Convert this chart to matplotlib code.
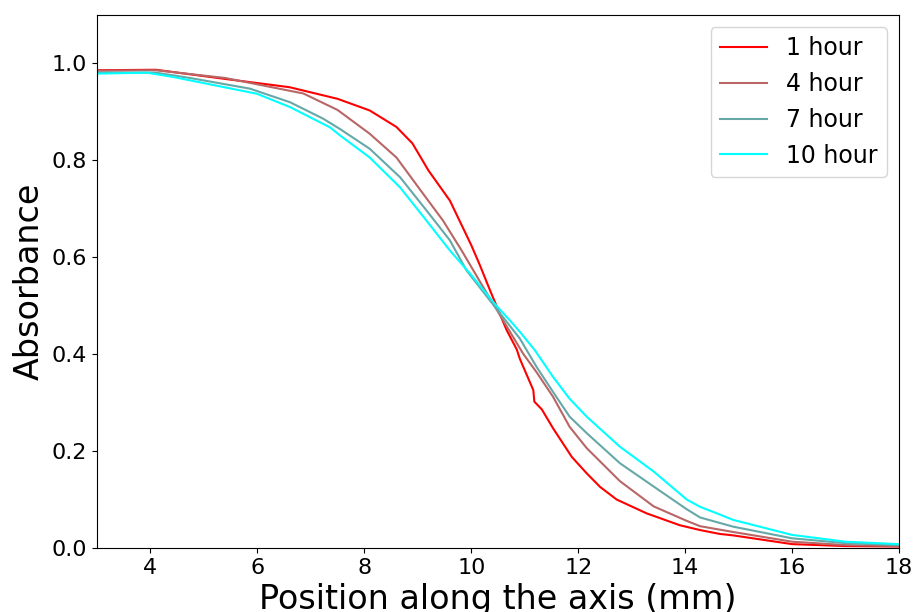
import matplotlib
matplotlib.use("Agg")
import matplotlib.pyplot as plt

# 1 hour
x1 = [3, 4.1, 5.4, 6.6, 7.5, 8.1, 8.6, 8.9, 9.2, 9.6, 10.0, 10.16, 10.35, 10.66, 10.85,
      10.91, 11.16, 11.18, 11.32, 11.53, 11.88, 12.16, 12.41, 12.72, 13.28, 13.9, 14.28,
      14.65, 14.9, 16.0, 17.0, 18.0]
y1 = [0.986, 0.987, 0.968, 0.951, 0.927, 0.903, 0.869, 0.835, 0.779, 0.717, 0.625, 0.584,
      0.532, 0.45, 0.41, 0.39, 0.326, 0.302, 0.286, 0.247, 0.188, 0.154, 0.126, 0.100,
      0.0715, 0.047, 0.037, 0.029, 0.026, 0.008, 0.004, 0.003]

# 4 hour
x4 = [3, 4.1, 5.4, 6.86, 7.5, 8.1, 8.6, 9.1, 9.47, 9.82, 10.22, 10.54, 10.97, 11.22, 11.53,
      11.84, 12.16, 12.78, 13.41, 14.03, 14.28, 14.9, 16.0, 17.0, 18.0]
y4 = [0.985, 0.986, 0.970, 0.938, 0.904, 0.855, 0.806, 0.731, 0.676, 0.614, 0.539, 0.48,
      0.401, 0.363, 0.312, 0.250, 0.206, 0.138, 0.086, 0.056, 0.045, 0.033, 0.013, 0.006, 0.004]

# 7 hour
x7 = [3, 4.1, 4.74, 5.86, 6.61, 7.23, 7.54, 8.1, 8.67, 9.16, 9.6, 9.91, 10.54, 10.91, 11.22,
      11.53, 11.84, 12.16, 12.78, 13.41, 14.03, 14.28, 14.9, 16.0, 17.0, 18.0]
y7 = [0.981, 0.981, 0.970, 0.948, 0.920, 0.886, 0.865, 0.824, 0.765, 0.697, 0.635, 0.573,
      0.484, 0.432, 0.374, 0.322, 0.271, 0.237, 0.175, 0.127, 0.080, 0.063, 0.044, 0.020,
      0.010, 0.006]

# 10 hour
x10 = [3, 3.93, 4.43, 5.99, 6.61, 7.36, 7.54, 8.1, 8.67, 9.16, 9.6, 9.98, 10.47, 10.72, 10.91,
       11.19, 11.53, 11.84, 12.16, 12.78, 13.41, 14.03, 14.28, 14.65, 14.9, 16.0, 17.0, 18.0]
y10 = [0.979, 0.981, 0.972, 0.9375, 0.91, 0.868, 0.852, 0.806, 0.744, 0.676, 0.614, 0.566,
       0.50, 0.47, 0.446, 0.408, 0.353, 0.308, 0.271, 0.209, 0.158, 0.100, 0.085, 0.069,
       0.058, 0.027, 0.013, 0.008]

labels = ['1 hour', '4 hour', '7 hour', '10 hour']
colors = ['#ff0000', '#b86666', '#66a8a8', '#00ffff']

fig = plt.figure(figsize=(9.15, 6.12), dpi=100)
ax = fig.add_axes([97/915, 64/612, 802/915, 533/612])

for xs, ys, lab, c in zip([x1, x4, x7, x10], [y1, y4, y7, y10], labels, colors):
    ax.plot(xs, ys, color=c, linewidth=1.5, label=lab)

ax.set_xlim(3, 18)
ax.set_ylim(0, 1.1)
ax.set_xticks([4, 6, 8, 10, 12, 14, 16, 18])
ax.set_yticks([0.0, 0.2, 0.4, 0.6, 0.8, 1.0])
ax.tick_params(labelsize=16)
ax.set_xlabel('Position along the axis (mm)', fontsize=24)
ax.set_ylabel('Absorbance', fontsize=24)
ax.legend(loc='upper right', fontsize=17)

fig.savefig('out.png', dpi=100)
